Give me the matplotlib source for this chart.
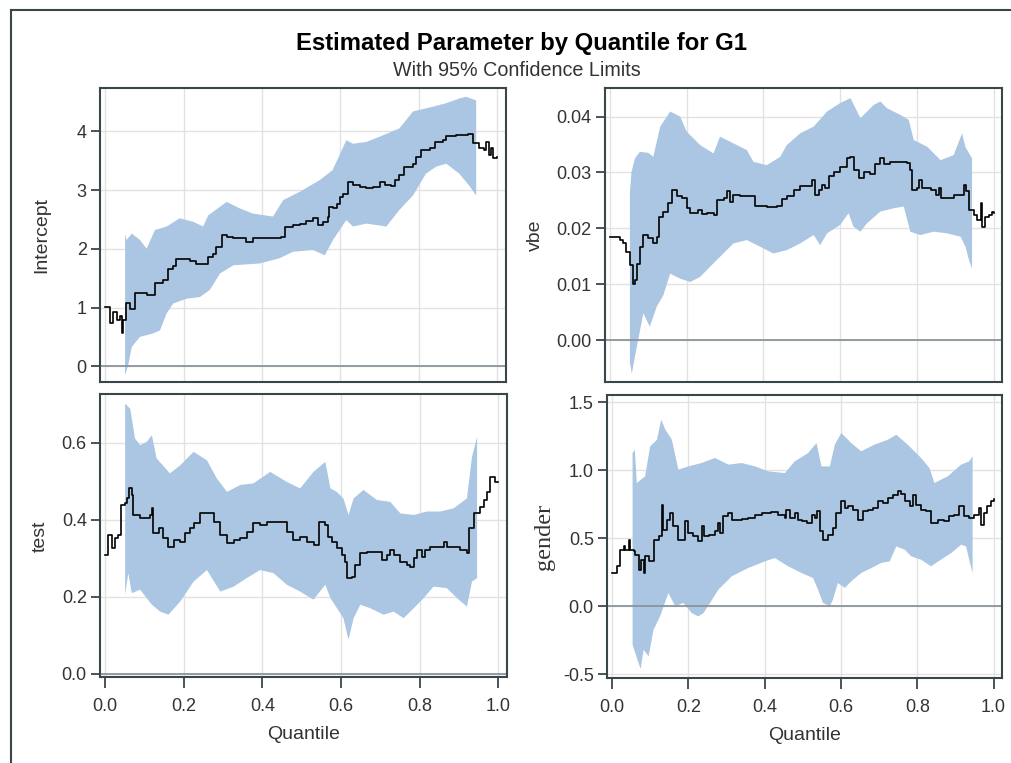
import numpy as np
import matplotlib
matplotlib.use('Agg')
import matplotlib.pyplot as plt
from matplotlib.lines import Line2D
from matplotlib.ticker import FormatStrFormatter

plt.rcParams['font.family'] = ['Liberation Sans', 'DejaVu Sans']

# ---- Intercept ----
q_int = [0, 0.013, 0.021, 0.030, 0.038, 0.042, 0.046, 0.053, 0.064, 0.076, 0.093, 0.106, 0.123, 0.127,
         0.148, 0.161, 0.174, 0.182, 0.20, 0.217, 0.233, 0.250, 0.263, 0.276, 0.284, 0.297, 0.310, 0.327,
         0.36, 0.377, 0.394, 0.428, 0.449, 0.458, 0.479, 0.496, 0.513, 0.530, 0.543, 0.555, 0.568, 0.572,
         0.581, 0.59, 0.598, 0.606, 0.619, 0.632, 0.649, 0.666, 0.683, 0.70, 0.713, 0.73, 0.738, 0.75,
         0.763, 0.785, 0.793, 0.806, 0.827, 0.84, 0.861, 0.869, 0.895, 0.925, 0.937, 0.954, 0.966, 0.971,
         0.979, 0.983, 0.988, 1.0]
est_int = [1.01, 0.73, 0.93, 0.79, 0.85, 0.56, 0.79, 1.07, 0.98, 1.25, 1.24, 1.21, 1.21, 1.42,
           1.47, 1.65, 1.70, 1.83, 1.83, 1.80, 1.74, 1.75, 1.86, 1.92, 2.03, 2.23, 2.20, 2.18,
           2.12, 2.18, 2.19, 2.19, 2.20, 2.38, 2.40, 2.43, 2.48, 2.52, 2.40, 2.46, 2.55, 2.72,
           2.69, 2.77, 2.88, 2.94, 3.14, 3.09, 3.06, 3.03, 3.06, 3.14, 3.09, 3.07, 3.17, 3.26,
           3.40, 3.45, 3.57, 3.68, 3.71, 3.82, 3.85, 3.92, 3.94, 3.95, 3.80, 3.71, 3.68, 3.82,
           3.60, 3.71, 3.54, 3.57]
bxu_int = [0.051, 0.055, 0.068, 0.089, 0.106, 0.127, 0.157, 0.19, 0.225, 0.25, 0.263, 0.31, 0.343, 0.377,
           0.428, 0.454, 0.496, 0.547, 0.58, 0.615, 0.632, 0.666, 0.70, 0.75, 0.785, 0.835, 0.869, 0.903,
           0.92, 0.946]
up_int = [2.26, 2.15, 2.26, 2.15, 2.00, 2.32, 2.38, 2.52, 2.46, 2.38, 2.57, 2.80, 2.69, 2.60,
          2.55, 2.83, 2.97, 3.17, 3.34, 3.85, 3.79, 3.82, 3.91, 4.05, 4.34, 4.42, 4.48, 4.56,
          4.59, 4.53]
bxl_int = [0.051, 0.059, 0.068, 0.089, 0.123, 0.140, 0.157, 0.174, 0.208, 0.242, 0.267, 0.293, 0.327, 0.394,
           0.445, 0.479, 0.53, 0.56, 0.581, 0.615, 0.632, 0.666, 0.717, 0.75, 0.785, 0.818, 0.844, 0.87,
           0.903, 0.93, 0.946]
lo_int = [-0.15, 0.02, 0.33, 0.50, 0.56, 0.61, 0.90, 1.07, 1.15, 1.18, 1.30, 1.58, 1.72, 1.75,
          1.84, 1.95, 1.98, 1.89, 2.15, 2.49, 2.38, 2.43, 2.38, 2.66, 2.91, 3.28, 3.40, 3.45,
          3.28, 3.06, 2.91]

# ---- vbe ----
q_vbe = [0.0, 0.022, 0.026, 0.035, 0.043, 0.052, 0.061, 0.065, 0.070, 0.078, 0.087, 0.100, 0.113, 0.122,
         0.129, 0.139, 0.152, 0.161, 0.174, 0.187, 0.20, 0.209, 0.226, 0.230, 0.239, 0.252, 0.27, 0.278,
         0.296, 0.305, 0.313, 0.322, 0.339, 0.374, 0.378, 0.409, 0.435, 0.448, 0.461, 0.479, 0.496, 0.514,
         0.527, 0.535, 0.544, 0.553, 0.561, 0.57, 0.583, 0.601, 0.618, 0.627, 0.635, 0.648, 0.661, 0.679,
         0.692, 0.705, 0.714, 0.731, 0.757, 0.775, 0.783, 0.788, 0.801, 0.805, 0.814, 0.836, 0.849, 0.857,
         0.862, 0.883, 0.896, 0.922, 0.927, 0.936, 0.949, 0.957, 0.966, 0.970, 0.979, 0.988, 0.996, 1.0]
est_vbe = [0.0184, 0.0184, 0.0179, 0.0173, 0.0158, 0.0134, 0.0101, 0.0107, 0.0137, 0.0167, 0.0188, 0.0182,
           0.0173, 0.0185, 0.0221, 0.0230, 0.0245, 0.0269, 0.0257, 0.0254, 0.0236, 0.0228, 0.0227, 0.0233,
           0.0226, 0.0227, 0.0224, 0.0251, 0.0254, 0.0266, 0.0248, 0.0260, 0.0258, 0.0257, 0.0240, 0.0239,
           0.0240, 0.0252, 0.0257, 0.0269, 0.0275, 0.0275, 0.0287, 0.0260, 0.0269, 0.0278, 0.0272, 0.0293,
           0.0301, 0.0310, 0.0325, 0.0328, 0.0304, 0.0290, 0.0301, 0.0297, 0.0316, 0.0325, 0.0316, 0.0319,
           0.0319, 0.0317, 0.0304, 0.0269, 0.0272, 0.0287, 0.0272, 0.0269, 0.0260, 0.0272, 0.0254, 0.0254,
           0.0260, 0.0278, 0.0266, 0.0233, 0.0224, 0.0215, 0.0245, 0.0203, 0.0221, 0.0224, 0.0230, 0.0228]
bxu_vbe = [0.052, 0.056, 0.065, 0.078, 0.100, 0.113, 0.131, 0.157, 0.183, 0.20, 0.235, 0.27, 0.287, 0.322,
           0.357, 0.374, 0.409, 0.444, 0.461, 0.496, 0.531, 0.566, 0.60, 0.627, 0.653, 0.688, 0.705, 0.722,
           0.757, 0.779, 0.792, 0.827, 0.862, 0.896, 0.918, 0.927, 0.944]
up_vbe = [0.0263, 0.0300, 0.0325, 0.0337, 0.0335, 0.0328, 0.0382, 0.0409, 0.0400, 0.0373, 0.0349, 0.0334,
          0.0364, 0.0352, 0.0340, 0.0319, 0.0313, 0.0328, 0.0349, 0.0370, 0.0382, 0.0409, 0.0424, 0.0433,
          0.0397, 0.0421, 0.0427, 0.0415, 0.0403, 0.0394, 0.0358, 0.0346, 0.0322, 0.0331, 0.0370, 0.0345,
          0.0325]
bxl_vbe = [0.052, 0.057, 0.070, 0.087, 0.104, 0.122, 0.139, 0.157, 0.183, 0.209, 0.235, 0.252, 0.278, 0.322,
           0.357, 0.392, 0.426, 0.461, 0.496, 0.531, 0.548, 0.566, 0.60, 0.622, 0.635, 0.653, 0.670, 0.705,
           0.740, 0.766, 0.783, 0.809, 0.844, 0.879, 0.914, 0.927, 0.936, 0.944]
lo_vbe = [-0.0040, -0.0060, -0.0012, 0.0048, 0.0024, 0.0060, 0.0080, 0.0119, 0.0110, 0.0104, 0.0113, 0.0125,
          0.0143, 0.0173, 0.0179, 0.0167, 0.0155, 0.0161, 0.0173, 0.0188, 0.0170, 0.0191, 0.0206, 0.0227,
          0.0203, 0.0194, 0.0209, 0.0230, 0.0236, 0.0239, 0.0194, 0.0188, 0.0194, 0.0191, 0.0185, 0.0167,
          0.0143, 0.0128]

# ---- test ----
q_test = [0, 0.008, 0.017, 0.025, 0.034, 0.040, 0.051, 0.055, 0.062, 0.068, 0.072, 0.089, 0.114, 0.119,
          0.123, 0.136, 0.148, 0.161, 0.174, 0.191, 0.203, 0.216, 0.225, 0.242, 0.263, 0.276, 0.293, 0.31,
          0.327, 0.344, 0.36, 0.377, 0.394, 0.411, 0.454, 0.462, 0.479, 0.496, 0.513, 0.53, 0.543, 0.56,
          0.568, 0.577, 0.589, 0.602, 0.611, 0.615, 0.628, 0.636, 0.649, 0.666, 0.691, 0.704, 0.717, 0.725,
          0.734, 0.751, 0.768, 0.776, 0.785, 0.793, 0.806, 0.814, 0.827, 0.852, 0.861, 0.869, 0.886, 0.903,
          0.92, 0.925, 0.937, 0.954, 0.963, 0.971, 0.98, 0.992, 1.0]
est_test = [0.308, 0.360, 0.326, 0.351, 0.360, 0.438, 0.442, 0.455, 0.481, 0.464, 0.412, 0.403, 0.412, 0.429,
            0.364, 0.377, 0.351, 0.330, 0.347, 0.343, 0.364, 0.377, 0.390, 0.416, 0.416, 0.395, 0.360, 0.339,
            0.347, 0.351, 0.369, 0.390, 0.386, 0.393, 0.393, 0.369, 0.347, 0.356, 0.343, 0.334, 0.395, 0.386,
            0.356, 0.343, 0.326, 0.308, 0.291, 0.248, 0.252, 0.282, 0.313, 0.317, 0.317, 0.295, 0.308, 0.321,
            0.308, 0.291, 0.282, 0.278, 0.300, 0.321, 0.304, 0.321, 0.330, 0.330, 0.343, 0.330, 0.330, 0.321,
            0.313, 0.377, 0.416, 0.434, 0.451, 0.472, 0.511, 0.498, 0.497]
bxu_test = [0.051, 0.064, 0.076, 0.089, 0.106, 0.119, 0.131, 0.165, 0.191, 0.225, 0.259, 0.284, 0.31, 0.344,
            0.377, 0.42, 0.462, 0.496, 0.53, 0.56, 0.573, 0.589, 0.606, 0.619, 0.632, 0.657, 0.691, 0.725,
            0.751, 0.785, 0.818, 0.852, 0.886, 0.92, 0.933, 0.946]
up_test = [0.701, 0.688, 0.611, 0.593, 0.602, 0.619, 0.559, 0.520, 0.541, 0.576, 0.554, 0.507, 0.472, 0.490,
           0.494, 0.524, 0.498, 0.481, 0.524, 0.550, 0.481, 0.472, 0.455, 0.412, 0.455, 0.477, 0.451, 0.446,
           0.416, 0.412, 0.421, 0.421, 0.429, 0.455, 0.563, 0.615]
bxl_test = [0.051, 0.059, 0.068, 0.089, 0.119, 0.140, 0.161, 0.191, 0.225, 0.259, 0.293, 0.327, 0.36, 0.394,
            0.428, 0.462, 0.496, 0.53, 0.56, 0.573, 0.606, 0.619, 0.632, 0.649, 0.674, 0.708, 0.734, 0.759,
            0.785, 0.81, 0.835, 0.869, 0.895, 0.92, 0.933, 0.946]
lo_test = [0.205, 0.261, 0.209, 0.218, 0.179, 0.161, 0.153, 0.187, 0.239, 0.269, 0.213, 0.226, 0.248, 0.269,
           0.261, 0.231, 0.213, 0.192, 0.231, 0.196, 0.144, 0.088, 0.144, 0.179, 0.170, 0.153, 0.161, 0.144,
           0.170, 0.196, 0.226, 0.222, 0.196, 0.174, 0.239, 0.248]

# ---- gender ----
q_gen = [0, 0.013, 0.022, 0.031, 0.035, 0.044, 0.048, 0.057, 0.061, 0.070, 0.077, 0.083, 0.087, 0.096,
         0.105, 0.109, 0.122, 0.131, 0.135, 0.144, 0.152, 0.161, 0.174, 0.192, 0.200, 0.213, 0.226, 0.235,
         0.240, 0.253, 0.270, 0.279, 0.283, 0.292, 0.305, 0.314, 0.340, 0.357, 0.375, 0.392, 0.418, 0.436,
         0.453, 0.457, 0.466, 0.479, 0.488, 0.497, 0.510, 0.523, 0.531, 0.536, 0.544, 0.553, 0.566, 0.579,
         0.588, 0.601, 0.610, 0.619, 0.632, 0.645, 0.658, 0.671, 0.684, 0.697, 0.710, 0.723, 0.736, 0.749,
         0.758, 0.767, 0.780, 0.788, 0.797, 0.810, 0.823, 0.836, 0.854, 0.871, 0.884, 0.897, 0.910, 0.923,
         0.936, 0.949, 0.962, 0.967, 0.975, 0.984, 0.992, 1.0]
est_gen = [0.245, 0.294, 0.417, 0.441, 0.417, 0.490, 0.417, 0.404, 0.380, 0.270, 0.343, 0.245, 0.368, 0.331,
           0.331, 0.490, 0.515, 0.748, 0.564, 0.637, 0.686, 0.588, 0.490, 0.625, 0.539, 0.515, 0.478, 0.588,
           0.515, 0.527, 0.551, 0.613, 0.540, 0.662, 0.686, 0.637, 0.640, 0.650, 0.674, 0.686, 0.691, 0.670,
           0.650, 0.711, 0.650, 0.686, 0.637, 0.625, 0.613, 0.674, 0.650, 0.699, 0.551, 0.490, 0.527, 0.576,
           0.686, 0.772, 0.723, 0.740, 0.711, 0.637, 0.699, 0.705, 0.723, 0.772, 0.760, 0.797, 0.821, 0.846,
           0.825, 0.772, 0.735, 0.821, 0.748, 0.711, 0.699, 0.613, 0.637, 0.625, 0.662, 0.674, 0.735, 0.662,
           0.650, 0.674, 0.723, 0.600, 0.686, 0.735, 0.772, 0.789]
bxu_gen = [0.054, 0.060, 0.065, 0.087, 0.100, 0.118, 0.129, 0.140, 0.157, 0.174, 0.200, 0.235, 0.270, 0.305,
           0.340, 0.375, 0.409, 0.453, 0.479, 0.514, 0.536, 0.549, 0.571, 0.584, 0.601, 0.627, 0.653, 0.688,
           0.723, 0.745, 0.775, 0.810, 0.832, 0.845, 0.880, 0.915, 0.936, 0.945]
up_gen = [1.127, 1.150, 0.907, 0.956, 1.176, 1.225, 1.373, 1.299, 1.225, 1.005, 1.029, 1.054, 1.091, 1.042,
          1.054, 1.029, 0.993, 0.980, 1.066, 1.127, 1.201, 1.029, 1.029, 1.189, 1.275, 1.201, 1.140, 1.189,
          1.225, 1.262, 1.189, 1.091, 1.017, 0.907, 0.956, 1.042, 1.066, 1.103]
bxl_gen = [0.054, 0.061, 0.075, 0.083, 0.096, 0.109, 0.126, 0.148, 0.166, 0.187, 0.209, 0.226, 0.240, 0.257,
           0.279, 0.314, 0.357, 0.401, 0.427, 0.462, 0.497, 0.527, 0.540, 0.553, 0.571, 0.579, 0.592, 0.610,
           0.627, 0.653, 0.680, 0.706, 0.728, 0.745, 0.767, 0.784, 0.810, 0.836, 0.862, 0.889, 0.915, 0.928,
           0.936, 0.945]
lo_gen = [-0.282, -0.343, -0.460, -0.319, -0.368, -0.172, -0.074, 0.098, 0.000, 0.025, -0.049, -0.074, -0.049,
          0.025, 0.123, 0.221, 0.282, 0.331, 0.355, 0.294, 0.245, 0.208, 0.123, 0.025, 0.000, 0.049, 0.172,
          0.135, 0.184, 0.245, 0.282, 0.319, 0.331, 0.441, 0.417, 0.368, 0.343, 0.294, 0.343, 0.392, 0.453,
          0.441, 0.343, 0.245]

band_color = '#abc6e2'
frame_color = '#3b464b'

fig = plt.figure(figsize=(10.12, 7.63), dpi=100)

# panel boxes (left, bottom, width, height)
rects = [[0.0988, 0.5000, 0.4012, 0.3847],
         [0.5978, 0.4993, 0.3923, 0.3853],
         [0.0988, 0.1121, 0.4022, 0.3709],
         [0.5998, 0.1114, 0.3903, 0.3709]]

panels = [
    ('Intercept', q_int, est_int, bxu_int, up_int, bxl_int, lo_int, (-0.26, 4.74), np.arange(0, 5, 1), '%d', -0.144),
    ('vbe', q_vbe, est_vbe, bxu_vbe, up_vbe, bxl_vbe, lo_vbe, (-0.0075, 0.0451), np.arange(0, 0.041, 0.01), '%.2f', -0.176),
    ('test', q_test, est_test, bxu_test, up_test, bxl_test, lo_test, (-0.01, 0.725), np.arange(0, 0.61, 0.2), '%.1f', -0.147),
    ('gender', q_gen, est_gen, bxu_gen, up_gen, bxl_gen, lo_gen, (-0.527, 1.554), np.arange(-0.5, 1.51, 0.5), '%.1f', -0.157),
]

for i, (name, q, est, bxu, up, bxl, lo, ylim, yt, fmt, lx) in enumerate(panels):
    ax = fig.add_axes(rects[i])
    px = np.concatenate([bxu, bxl[::-1]])
    py = np.concatenate([up, lo[::-1]])
    ax.fill(px, py, color=band_color, lw=0, zorder=1)
    ax.axhline(0, color='#8a959a', lw=1.3, zorder=2)
    ax.plot(q, est, color='black', lw=1.2, drawstyle='steps-post', zorder=3)
    ax.set_xlim(-0.013, 1.022)
    ax.set_ylim(*ylim)
    ax.set_xticks(np.arange(0, 1.01, 0.2))
    ax.set_yticks(yt)
    ax.yaxis.set_major_formatter(FormatStrFormatter(fmt))
    ax.xaxis.set_major_formatter(FormatStrFormatter('%.1f'))
    ax.grid(True, color='#e2e2e2', lw=1.0, zorder=0)
    ax.set_axisbelow(True)
    for s in ax.spines.values():
        s.set_color(frame_color)
        s.set_linewidth(1.5)
    ax.tick_params(axis='y', direction='out', length=6.5, width=1.3, color=frame_color,
                   labelsize=13, labelcolor='#333333', pad=3)
    ax.tick_params(axis='x', direction='out', length=8, width=1.3, color=frame_color,
                   labelsize=13, labelcolor='#333333', pad=7)
    if name == 'gender':
        ax.set_ylabel(name, fontsize=17.5, color='#333333', va='center',
                      family=['Liberation Serif', 'DejaVu Serif'])
    else:
        ax.set_ylabel(name, fontsize=14, color='#333333', va='center')
    ax.yaxis.set_label_coords(lx, 0.5)
    if i < 2:
        ax.tick_params(axis='x', bottom=False, labelbottom=False)
    else:
        ax.set_xlabel('Quantile', fontsize=14, color='#333333', labelpad=8)

fig.text(0.515, 0.943, 'Estimated Parameter by Quantile for G1', ha='center', va='center',
         fontsize=17.2, fontweight='bold', color='black')
fig.text(0.511, 0.908, 'With 95% Confidence Limits', ha='center', va='center',
         fontsize=14.2, color='#333333')

# outer frame (top and left edges)
fig.add_artist(Line2D([10.5 / 1012, 1.0], [1 - 9.5 / 763, 1 - 9.5 / 763], color=frame_color, lw=1.5))
fig.add_artist(Line2D([10.5 / 1012, 10.5 / 1012], [0, 1 - 9.5 / 763], color=frame_color, lw=1.5))

fig.savefig('out.png', dpi=100)
